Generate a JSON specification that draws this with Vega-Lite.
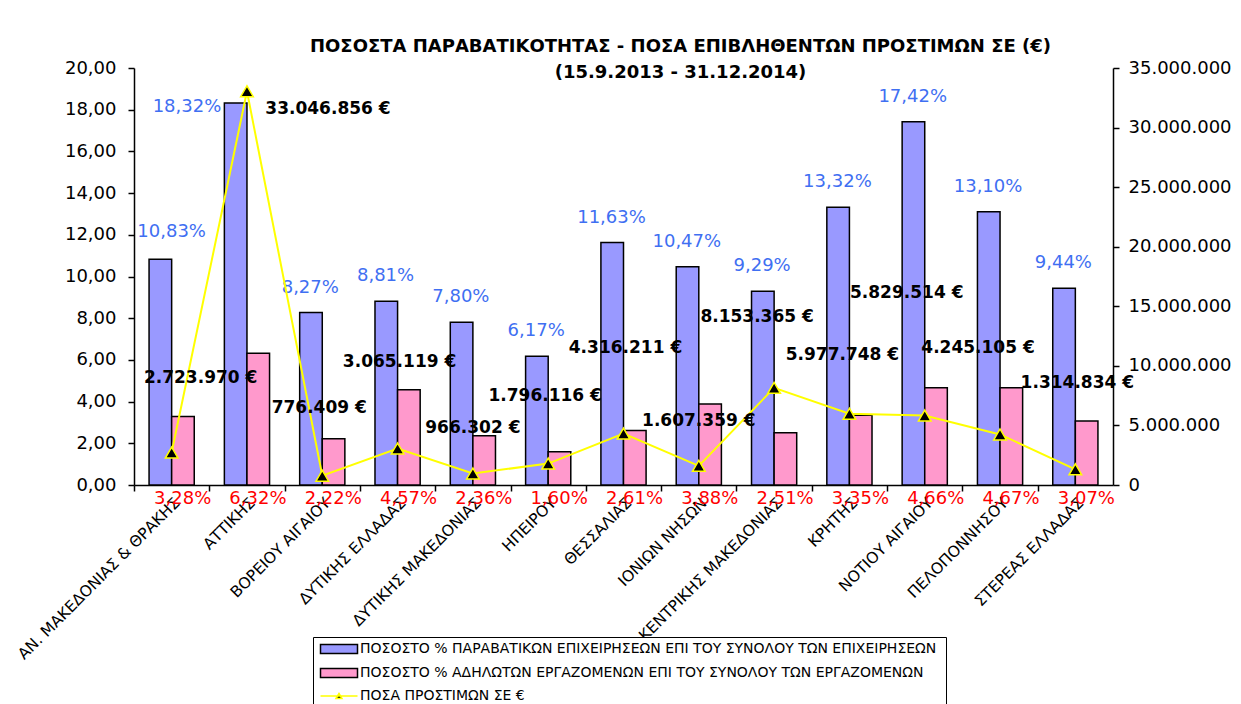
{
  "$schema": "https://vega.github.io/schema/vega-lite/v6.json",
  "width": 979,
  "height": 417,
  "autosize": "none",
  "padding": {"left": 134, "top": 68, "right": 128, "bottom": 219},
  "background": "white",
  "config": {
    "locale": {"number": {"decimal": ",", "thousands": ".", "grouping": [3], "currency": ["", " €"]}},
    "view": {"stroke": null},
    "font": "DejaVu Sans",
    "axis": {"grid": false, "domainColor": "black", "domainWidth": 1.5, "tickColor": "black", "tickWidth": 1.5, "labelColor": "black", "labelFont": "DejaVu Sans", "title": null},
    "text": {"font": "DejaVu Sans", "baseline": "middle", "align": "center"}
  },
  "title": {
    "text": ["ΠΟΣΟΣΤΑ ΠΑΡΑΒΑΤΙΚΟΤΗΤΑΣ - ΠΟΣΑ ΕΠΙΒΛΗΘΕΝΤΩΝ ΠΡΟΣΤΙΜΩΝ ΣΕ (€)", "(15.9.2013 - 31.12.2014)"],
    "font": "DejaVu Sans",
    "fontSize": 18,
    "fontWeight": "bold",
    "color": "black",
    "anchor": "middle",
    "dx": 57,
    "offset": -23,
    "lineHeight": 26
  },
  "data": {
    "values": [
      {"region": "ΑΝ. ΜΑΚΕΔΟΝΙΑΣ & ΘΡΑΚΗΣ", "firms": 10.83, "workers": 3.28, "fines": 2723970},
      {"region": "ΑΤΤΙΚΗΣ", "firms": 18.32, "workers": 6.32, "fines": 33046856},
      {"region": "ΒΟΡΕΙΟΥ ΑΙΓΑΙΟΥ", "firms": 8.27, "workers": 2.22, "fines": 776409},
      {"region": "ΔΥΤΙΚΗΣ ΕΛΛΑΔΑΣ", "firms": 8.81, "workers": 4.57, "fines": 3065119},
      {"region": "ΔΥΤΙΚΗΣ ΜΑΚΕΔΟΝΙΑΣ", "firms": 7.80, "workers": 2.36, "fines": 966302},
      {"region": "ΗΠΕΙΡΟΥ", "firms": 6.17, "workers": 1.60, "fines": 1796116},
      {"region": "ΘΕΣΣΑΛΙΑΣ", "firms": 11.63, "workers": 2.61, "fines": 4316211},
      {"region": "ΙΟΝΙΩΝ ΝΗΣΩΝ", "firms": 10.47, "workers": 3.88, "fines": 1607359},
      {"region": "ΚΕΝΤΡΙΚΗΣ ΜΑΚΕΔΟΝΙΑΣ", "firms": 9.29, "workers": 2.51, "fines": 8153365},
      {"region": "ΚΡΗΤΗΣ", "firms": 13.32, "workers": 3.35, "fines": 5977748},
      {"region": "ΝΟΤΙΟΥ ΑΙΓΑΙΟΥ", "firms": 17.42, "workers": 4.66, "fines": 5829514},
      {"region": "ΠΕΛΟΠΟΝΝΗΣΟΥ", "firms": 13.10, "workers": 4.67, "fines": 4245105},
      {"region": "ΣΤΕΡΕΑΣ  ΕΛΛΑΔΑΣ", "firms": 9.44, "workers": 3.07, "fines": 1314834}
    ]
  },
  "encoding": {
    "x": {
      "field": "region", "type": "nominal", "sort": null,
      "scale": {"paddingInner": 0.4, "paddingOuter": 0.2},
      "axis": {"title": null, "labelAngle": -45, "labelFontSize": 15.5, "labelPadding": 4, "tickSize": 6, "bandPosition": 0.5, "tickOffset": -37.65, "labelOffset": 37.65, "labelLimit": 400}
    }
  },
  "layer": [
    {
      "layer": [
        {
          "transform": [{"fold": ["firms", "workers"], "as": ["series", "value"]}],
          "mark": {"type": "bar", "stroke": "black", "strokeWidth": 1.5},
          "encoding": {
            "y": {"field": "value", "type": "quantitative", "scale": {"domain": [0, 20], "nice": false},
                  "axis": {"title": null, "values": [0, 2, 4, 6, 8, 10, 12, 14, 16, 18, 20], "format": ".2f", "labelFontSize": 18, "tickSize": 6, "labelPadding": 12}},
            "xOffset": {"field": "series", "type": "nominal", "scale": {"domain": ["firms", "workers"], "paddingInner": 0, "paddingOuter": 0}},
            "color": {
              "field": "series", "type": "nominal",
              "scale": {"domain": ["firms", "workers", "fines"], "range": ["#9999FF", "#FF99CC", "#000000"]},
              "legend": {
                "title": null, "orient": "none", "legendX": 179, "legendY": 569, "direction": "vertical",
                "strokeColor": "black", "fillColor": "white", "padding": 5,
                "labelFont": "DejaVu Sans", "labelFontSize": 14, "labelColor": "black", "labelLimit": 0,
                "rowPadding": 8, "symbolSize": 100, "symbolOffset": 14, "labelOffset": 14,
                "symbolType": {"expr": "datum.value === 'fines' ? 'M-3.7,0H3.7M-0.6,0.5L0,-0.5L0.6,0.5Z' : 'M-3.7,-0.9H3.7V0.9H-3.7Z'"},
                "symbolStrokeColor": {"expr": "datum.value === 'fines' ? '#FFFF00' : 'black'"},
                "symbolStrokeWidth": 1.5,
                "symbolOpacity": 1,
                "labelExpr": "datum.value === 'firms' ? 'ΠΟΣΟΣΤΟ %  ΠΑΡΑΒΑΤΙΚΩΝ ΕΠΙΧΕΙΡΗΣΕΩΝ ΕΠΙ ΤΟΥ ΣΥΝΟΛΟΥ ΤΩΝ ΕΠΙΧΕΙΡΗΣΕΩΝ' : datum.value === 'workers' ? 'ΠΟΣΟΣΤΟ % ΑΔΗΛΩΤΩΝ ΕΡΓΑΖΟΜΕΝΩΝ ΕΠΙ ΤΟΥ ΣΥΝΟΛΟΥ ΤΩΝ ΕΡΓΑΖΟΜΕΝΩΝ' : 'ΠΟΣΑ ΠΡΟΣΤΙΜΩΝ ΣΕ €'"
              }
            }
          }
        },
        {
          "transform": [{"filter": "datum.region !== 'ΑΤΤΙΚΗΣ' && datum.region !== 'ΑΝ. ΜΑΚΕΔΟΝΙΑΣ & ΘΡΑΚΗΣ'"}],
          "mark": {"type": "text", "fontSize": 18, "color": "#3F6FF2", "dx": -12, "dy": -25},
          "encoding": {
            "y": {"field": "firms", "type": "quantitative", "scale": {"domain": [0, 20], "nice": false}, "axis": {"title": null}},
            "text": {"value": {"expr": "format(datum.firms, '.2f') + '%'"}}
          }
        },
        {
          "transform": [{"filter": "datum.region === 'ΑΝ. ΜΑΚΕΔΟΝΙΑΣ & ΘΡΑΚΗΣ'"}],
          "mark": {"type": "text", "fontSize": 18, "color": "#3F6FF2", "dx": 0, "dy": -27},
          "encoding": {
            "y": {"field": "firms", "type": "quantitative", "scale": {"domain": [0, 20], "nice": false}, "axis": {"title": null}},
            "text": {"value": {"expr": "format(datum.firms, '.2f') + '%'"}}
          }
        },
        {
          "transform": [{"filter": "datum.region === 'ΑΤΤΙΚΗΣ'"}],
          "mark": {"type": "text", "fontSize": 18, "color": "#3F6FF2", "dx": -60, "dy": 4},
          "encoding": {
            "y": {"field": "firms", "type": "quantitative", "scale": {"domain": [0, 20], "nice": false}, "axis": {"title": null}},
            "text": {"value": {"expr": "format(datum.firms, '.2f') + '%'"}}
          }
        },
        {
          "mark": {"type": "text", "fontSize": 18, "color": "#FF0000", "dx": 11, "dy": 14},
          "encoding": {
            "y": {"datum": 0, "type": "quantitative", "scale": {"domain": [0, 20], "nice": false}, "axis": {"title": null}},
            "text": {"value": {"expr": "format(datum.workers, '.2f') + '%'"}}
          }
        }
      ]
    },
    {
      "encoding": {
        "y": {"field": "fines", "type": "quantitative", "scale": {"domain": [0, 35000000], "nice": false},
              "axis": {"orient": "right", "title": null, "values": [0, 5000000, 10000000, 15000000, 20000000, 25000000, 30000000, 35000000], "format": ",d", "labelFontSize": 18, "tickSize": 6, "labelPadding": 9}}
      },
      "layer": [
        {
          "mark": {"type": "line", "stroke": "#FFFF00", "strokeWidth": 2},
          "encoding": {}
        },
        {
          "mark": {"type": "point", "shape": "triangle-up", "filled": true, "fill": "black", "stroke": "#FFFF00", "strokeWidth": 1.5, "size": 160, "opacity": 1},
          "encoding": {}
        },
        {
          "transform": [{"filter": {"field": "region", "oneOf": ["ΔΥΤΙΚΗΣ ΕΛΛΑΔΑΣ", "ΘΕΣΣΑΛΙΑΣ", "ΣΤΕΡΕΑΣ  ΕΛΛΑΔΑΣ"]}}],
          "mark": {"type": "text", "fontSize": 17, "fontWeight": "bold", "color": "black", "dx": 2, "dy": -86},
          "encoding": {"text": {"field": "fines", "format": "$,.0f"}}
        },
        {
          "transform": [{"filter": {"field": "region", "oneOf": ["ΒΟΡΕΙΟΥ ΑΙΓΑΙΟΥ", "ΗΠΕΙΡΟΥ"]}}],
          "mark": {"type": "text", "fontSize": 17, "fontWeight": "bold", "color": "black", "dx": -3, "dy": -68},
          "encoding": {"text": {"field": "fines", "format": "$,.0f"}}
        },
        {
          "transform": [{"filter": {"field": "region", "oneOf": ["ΔΥΤΙΚΗΣ ΜΑΚΕΔΟΝΙΑΣ", "ΙΟΝΙΩΝ ΝΗΣΩΝ"]}}],
          "mark": {"type": "text", "fontSize": 17, "fontWeight": "bold", "color": "black", "dx": 0, "dy": -45},
          "encoding": {"text": {"field": "fines", "format": "$,.0f"}}
        },
        {
          "transform": [{"filter": {"field": "region", "equal": "ΑΝ. ΜΑΚΕΔΟΝΙΑΣ & ΘΡΑΚΗΣ"}}],
          "mark": {"type": "text", "fontSize": 17, "fontWeight": "bold", "color": "black", "dx": 29, "dy": -75},
          "encoding": {"text": {"field": "fines", "format": "$,.0f"}}
        },
        {
          "transform": [{"filter": {"field": "region", "equal": "ΑΤΤΙΚΗΣ"}}],
          "mark": {"type": "text", "fontSize": 17, "fontWeight": "bold", "color": "black", "dx": 81, "dy": 18},
          "encoding": {"text": {"field": "fines", "format": "$,.0f"}}
        },
        {
          "transform": [{"filter": {"field": "region", "equal": "ΚΕΝΤΡΙΚΗΣ ΜΑΚΕΔΟΝΙΑΣ"}}],
          "mark": {"type": "text", "fontSize": 17, "fontWeight": "bold", "color": "black", "dx": -17, "dy": -71},
          "encoding": {"text": {"field": "fines", "format": "$,.0f"}}
        },
        {
          "transform": [{"filter": {"field": "region", "equal": "ΚΡΗΤΗΣ"}}],
          "mark": {"type": "text", "fontSize": 17, "fontWeight": "bold", "color": "black", "dx": -7, "dy": -59},
          "encoding": {"text": {"field": "fines", "format": "$,.0f"}}
        },
        {
          "transform": [{"filter": {"field": "region", "equal": "ΝΟΤΙΟΥ ΑΙΓΑΙΟΥ"}}],
          "mark": {"type": "text", "fontSize": 17, "fontWeight": "bold", "color": "black", "dx": -18, "dy": -123},
          "encoding": {"text": {"field": "fines", "format": "$,.0f"}}
        },
        {
          "transform": [{"filter": {"field": "region", "equal": "ΠΕΛΟΠΟΝΝΗΣΟΥ"}}],
          "mark": {"type": "text", "fontSize": 17, "fontWeight": "bold", "color": "black", "dx": -22, "dy": -86},
          "encoding": {"text": {"field": "fines", "format": "$,.0f"}}
        }
      ]
    }
  ],
  "resolve": {"scale": {"y": "independent"}}
}
